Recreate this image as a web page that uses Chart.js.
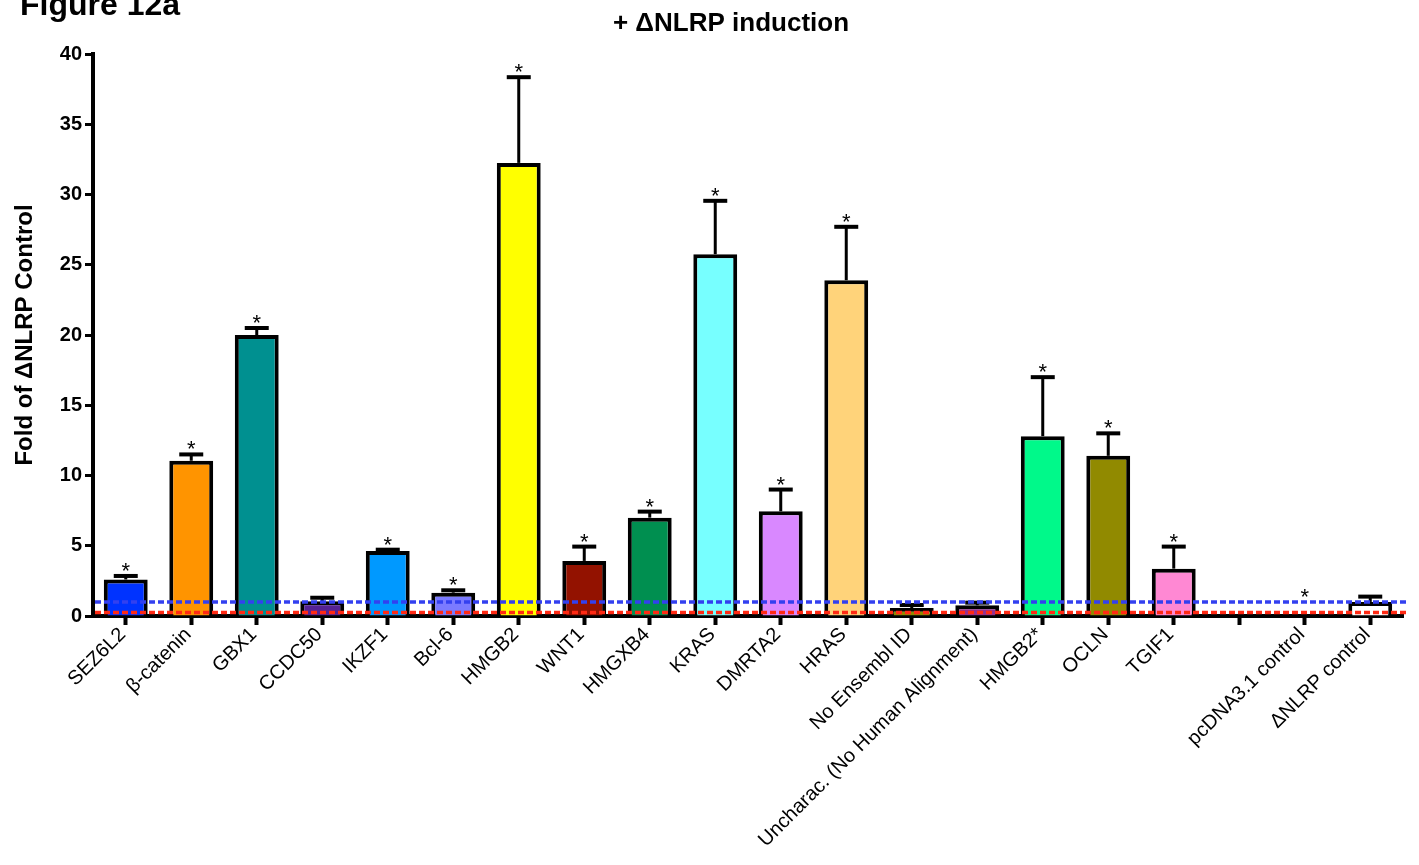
<!DOCTYPE html>
<html lang="fr">
<head>
<meta charset="utf-8">
<title>Figure 12a</title>
<script src="https://cdn.jsdelivr.net/npm/chart.js@4/dist/chart.umd.min.js"></script>
<style>
    html, body { margin: 0; padding: 0; background: #fff; }
    #conteneur { position: relative; width: 1419px; height: 865px; }
</style>
</head>
<body>
<div id="conteneur"><canvas id="graphique-induction"></canvas></div>
<script>
// Gènes testés, plus un emplacement vide avant les deux contrôles
const genes = [
    'SEZ6L2', 'β-catenin', 'GBX1', 'CCDC50', 'IKZF1', 'Bcl-6', 'HMGB2',
    'WNT1', 'HMGXB4', 'KRAS', 'DMRTA2', 'HRAS', 'No Ensembl ID',
    'Uncharac. (No Human Alignment)', 'HMGB2*', 'OCLN', 'TGIF1', '',
    'pcDNA3.1 control', 'ΔNLRP control',
];
const moyennes = [
    2.6, 11.05, 20.0, 1.05, 4.63, 1.66, 32.25,
    3.92, 7.0, 25.75, 7.45, 23.9, 0.57,
    0.76, 12.8, 11.4, 3.37, null,
    0.03, 1.0,
];
const erreurs = [
    0.25, 0.45, 0.5, 0.25, 0.09, 0.17, 6.1,
    1.02, 0.43, 3.8, 1.55, 3.8, 0.21,
    0.19, 4.2, 1.6, 1.57, null,
    0, 0.38,
];
const significatif = [
    true, true, true, false, true, true, true,
    true, true, true, true, true, false,
    false, true, true, true, false,
    true, false,
];
const couleurs = [
    '#0033ff', '#ff9400', '#009090', '#552294', '#0099ff', '#7a7aff', '#ffff00',
    '#931200', '#008f50', '#77ffff', '#d988ff', '#ffd37a', '#8f8a00',
    '#96308f', '#00f98a', '#918a00', '#ff88d3', '#ffffff',
    '#ffffff', '#ffffff',
];
const ticksY = [0, 5, 10, 15, 20, 25, 30, 35, 40];
const niveauControle = 1.0;
const niveauBruit = 0.25;

const police = '"Liberation Sans", Arial, Helvetica, sans-serif';

// Barres d'erreur (haut seulement), lignes pointillées et astérisques
const decorations = {
    id: 'decorations',
    afterDatasetsDraw(chart) {
        const ctx = chart.ctx;
        const y = chart.scales.y;
        const zone = chart.chartArea;
        const meta = chart.getDatasetMeta(0);

        ctx.save();
        ctx.strokeStyle = '#000';
        meta.data.forEach((barre, i) => {
            if (moyennes[i] === null || !erreurs[i]) return;
            const yBas = y.getPixelForValue(moyennes[i]);
            const yHaut = y.getPixelForValue(moyennes[i] + erreurs[i]);
            ctx.lineWidth = 3;
            ctx.beginPath();
            ctx.moveTo(barre.x, yBas);
            ctx.lineTo(barre.x, yHaut);
            ctx.stroke();
            ctx.lineWidth = 4;
            ctx.beginPath();
            ctx.moveTo(barre.x - 12, yHaut);
            ctx.lineTo(barre.x + 12, yHaut);
            ctx.stroke();
        });

        const pointilles = [
            { valeur: niveauControle, couleur: '#3340f0' },
            { valeur: niveauBruit, couleur: '#ff2a14' },
        ];
        ctx.lineWidth = 3.5;
        ctx.setLineDash([6, 3]);
        for (let p of pointilles) {
            const py = y.getPixelForValue(p.valeur);
            ctx.strokeStyle = p.couleur;
            ctx.beginPath();
            ctx.moveTo(zone.left + 2, py);
            ctx.lineTo(zone.right + 5, py);
            ctx.stroke();
        }
        ctx.setLineDash([]);

        ctx.fillStyle = '#000';
        ctx.font = '22px ' + police;
        ctx.textAlign = 'center';
        ctx.textBaseline = 'alphabetic';
        meta.data.forEach((barre, i) => {
            if (!significatif[i]) return;
            const sommet = Math.max(moyennes[i] + (erreurs[i] || 0), niveauControle);
            ctx.fillText('*', barre.x, y.getPixelForValue(sommet) + 2);
        });
        ctx.restore();
    },
    afterDraw(chart) {
        const ctx = chart.ctx;
        ctx.save();
        ctx.fillStyle = '#000';
        ctx.textBaseline = 'alphabetic';
        ctx.font = 'bold 32px ' + police;
        ctx.textAlign = 'left';
        ctx.fillText('Figure 12a', 20, 15);
        ctx.font = 'bold 26px ' + police;
        ctx.textAlign = 'center';
        ctx.fillText('+ ΔNLRP induction', 731, 31);
        ctx.restore();
    },
};

new Chart(document.querySelector('#graphique-induction'), {
    type: 'bar',
    data: {
        labels: genes,
        datasets: [
            {
                label: 'Fold of ΔNLRP Control',
                data: moyennes,
                backgroundColor: couleurs,
                borderColor: '#000',
                borderWidth: 4,
                barPercentage: 0.67,
                categoryPercentage: 1,
            },
        ],
    },
    options: {
        responsive: true,
        maintainAspectRatio: false,
        animation: false,
        devicePixelRatio: 1,
        layout: { padding: { top: 54, right: 16, left: 0, bottom: 0 } },
        plugins: {
            legend: { display: false },
            tooltip: { enabled: false },
        },
        scales: {
            x: {
                afterFit(scale) { scale.height = 249; },
                grid: {
                    offset: false,
                    drawOnChartArea: false,
                    tickLength: 9,
                    tickWidth: 4,
                    tickColor: '#000',
                },
                border: { color: '#000', width: 4 },
                ticks: {
                    autoSkip: false,
                    maxRotation: 45,
                    minRotation: 45,
                    padding: -2,
                    labelOffset: -3,
                    color: '#000',
                    font: { family: police, size: 20 },
                },
            },
            y: {
                min: 0,
                max: 40,
                afterFit(scale) { scale.width = 93; },
                afterBuildTicks(scale) {
                    scale.ticks = ticksY.map((v) => ({ value: v }));
                },
                grid: {
                    drawOnChartArea: false,
                    tickLength: 8,
                    tickWidth: 3,
                    tickColor: '#000',
                },
                border: { color: '#000', width: 4 },
                ticks: {
                    padding: 3,
                    color: '#000',
                    font: { family: police, size: 20, weight: 'bold' },
                },
                title: {
                    display: true,
                    text: 'Fold of ΔNLRP Control',
                    color: '#000',
                    padding: { top: 11, bottom: 0 },
                    font: { family: police, size: 24, weight: 'bold' },
                },
            },
        },
    },
    plugins: [decorations],
});
</script>
</body>
</html>
